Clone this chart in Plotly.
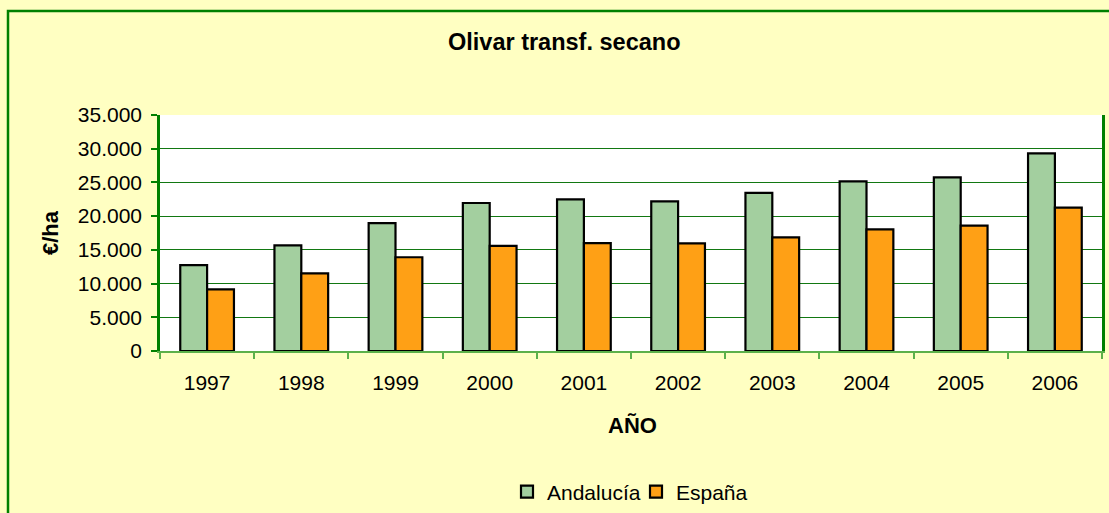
import plotly.graph_objects as go

years = ["1997", "1998", "1999", "2000", "2001", "2002", "2003", "2004", "2005", "2006"]
andalucia = [12750, 15650, 18950, 21950, 22500, 22200, 23450, 25150, 25750, 29300]
espana = [9150, 11500, 13900, 15600, 16000, 15950, 16850, 18050, 18600, 21250]
series_names = ["Andalucía", "España"]
y_ticks = [0, 5000, 10000, 15000, 20000, 25000, 30000, 35000]

FONT = "Liberation Sans, Arial, sans-serif"
L, R, T, B = 160, 7, 115, 162
W, H = 1109, 513
pw = W - L - R
ph = H - T - B

def px_x(x):
    return (x - L) / pw

def px_y(y):
    return (H - B - y) / ph

fig = go.Figure()
fig.add_trace(go.Bar(
    x=years, y=andalucia, name=series_names[0],
    marker=dict(color="#a3cf9f", line=dict(color="#000000", width=2.2)),
))
fig.add_trace(go.Bar(
    x=years, y=espana, name=series_names[1],
    marker=dict(color="#ffa015", line=dict(color="#000000", width=2.2)),
))

fig.update_layout(
    width=W, height=H,
    margin=dict(l=L, r=R, t=T, b=B, pad=0, autoexpand=False),
    paper_bgcolor="#ffffc2",
    plot_bgcolor="#ffffff",
    separators=",.",
    barmode="group",
    bargap=0.43,
    bargroupgap=0,
    font=dict(family=FONT, size=21, color="#000000"),
    showlegend=True,
    legend=dict(
        orientation="h", x=px_x(507), xanchor="left", y=px_y(492), yanchor="middle",
        font=dict(family=FONT, size=21, color="#000000"),
        bgcolor="rgba(0,0,0,0)", itemwidth=30, traceorder="normal",
        entrywidth=84, entrywidthmode="pixels",
    ),
    xaxis=dict(
        type="category",
        showline=True, linecolor="#5cb04a", linewidth=2,
        ticks="outside", ticklen=6, tickcolor="#5cb04a", tickwidth=2,
        tickson="boundaries",
        showgrid=False,
        tickfont=dict(family=FONT, size=21, color="#000000"),
        ticklabelstandoff=12,
        mirror=False,
        automargin=False,
    ),
    yaxis=dict(
        range=[0, 35000],
        tickvals=y_ticks,
        tickformat=",d",
        showline=True, linecolor="#008000", linewidth=2.5, mirror=True,
        ticks="outside", ticklen=6, tickcolor="#008000", tickwidth=1.5,
        showgrid=True, gridcolor="#127812", gridwidth=1.3,
        zeroline=False,
        tickfont=dict(family=FONT, size=21, color="#000000"),
        ticklabelstandoff=5,
        automargin=False,
    ),
    annotations=[
        dict(text="<b>Olivar transf. secano</b>", x=px_x(564), y=1 + (T - 42) / ph,
             xref="paper", yref="paper", showarrow=False,
             font=dict(family=FONT, size=23.5, color="#000000"),
             xanchor="center", yanchor="middle"),
        dict(text="<b>AÑO</b>", x=px_x(632), y=px_y(425),
             xref="paper", yref="paper", showarrow=False,
             font=dict(family=FONT, size=22, color="#000000"),
             xanchor="center", yanchor="middle"),
        dict(text="<b>€/ha</b>", x=px_x(50), y=px_y(233), textangle=-90,
             xref="paper", yref="paper", showarrow=False,
             font=dict(family=FONT, size=22, color="#000000"),
             xanchor="center", yanchor="middle"),
    ],
    shapes=[
        dict(type="rect", xref="paper", yref="paper",
             x0=px_x(8), x1=px_x(1125), y0=px_y(540), y1=1 + (T - 11) / ph,
             line=dict(color="#008000", width=2.5), fillcolor="rgba(0,0,0,0)",
             layer="above"),
    ],
)

fig.write_html("out.html", config={"displayModeBar": False},
               post_script="document.body.style.margin='0px';")
